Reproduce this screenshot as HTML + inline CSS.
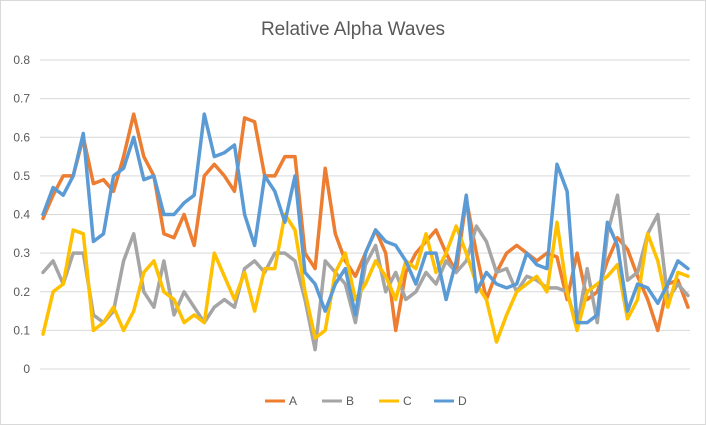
<!DOCTYPE html>
<html><head><meta charset="utf-8"><style>
body{margin:0;background:#fff;}
svg{display:block;font-family:"Liberation Sans",Arial,sans-serif;}
</style></head><body>
<svg id="chart" width="706" height="425">
<rect x="0.5" y="0.5" width="705" height="424" fill="#fff" stroke="#d9d9d9"/>
<text x="353" y="35" text-anchor="middle" font-size="19" fill="#595959">Relative Alpha Waves</text>
<g id="grid"></g><g id="ylabels"></g><g id="series"></g><g id="legend"></g>
</svg>
<script>
const yTicks=[0,0.1,0.2,0.3,0.4,0.5,0.6,0.7,0.8];
const tickLabels=["0","0.1","0.2","0.3","0.4","0.5","0.6","0.7","0.8"];
const seriesNames=["A","B","C","D"];
const valuesA=[0.39,0.45,0.50,0.50,0.60,0.48,0.49,0.46,0.55,0.66,0.55,0.50,0.35,0.34,0.40,0.32,0.50,0.53,0.50,0.46,0.65,0.64,0.50,0.50,0.55,0.55,0.30,0.26,0.52,0.35,0.28,0.24,0.30,0.36,0.30,0.10,0.25,0.30,0.33,0.36,0.30,0.25,0.44,0.30,0.18,0.25,0.30,0.32,0.30,0.28,0.30,0.29,0.18,0.30,0.18,0.20,0.28,0.34,0.31,0.24,0.18,0.10,0.22,0.23,0.16];
const valuesB=[0.25,0.28,0.22,0.30,0.30,0.14,0.12,0.15,0.28,0.35,0.20,0.16,0.28,0.14,0.20,0.16,0.12,0.16,0.18,0.16,0.26,0.28,0.25,0.30,0.30,0.28,0.18,0.05,0.28,0.25,0.22,0.12,0.27,0.32,0.20,0.25,0.18,0.20,0.25,0.22,0.28,0.25,0.28,0.37,0.33,0.25,0.26,0.20,0.24,0.23,0.21,0.21,0.20,0.11,0.26,0.12,0.35,0.45,0.23,0.25,0.35,0.40,0.18,0.22,0.19];
const valuesC=[0.09,0.20,0.22,0.36,0.35,0.10,0.12,0.16,0.10,0.15,0.25,0.28,0.20,0.18,0.12,0.14,0.12,0.30,0.24,0.18,0.25,0.15,0.26,0.26,0.40,0.36,0.20,0.08,0.10,0.25,0.30,0.18,0.22,0.28,0.24,0.18,0.28,0.26,0.35,0.25,0.30,0.37,0.30,0.22,0.18,0.07,0.14,0.20,0.22,0.24,0.20,0.38,0.20,0.10,0.20,0.22,0.24,0.27,0.13,0.18,0.35,0.28,0.16,0.25,0.24];
const valuesD=[0.40,0.47,0.45,0.50,0.61,0.33,0.35,0.50,0.52,0.60,0.49,0.50,0.40,0.40,0.43,0.45,0.66,0.55,0.56,0.58,0.40,0.32,0.50,0.46,0.38,0.50,0.25,0.22,0.15,0.22,0.26,0.14,0.30,0.36,0.33,0.32,0.28,0.22,0.30,0.30,0.18,0.28,0.45,0.20,0.25,0.22,0.21,0.22,0.30,0.27,0.26,0.53,0.46,0.12,0.12,0.14,0.38,0.32,0.15,0.22,0.21,0.17,0.22,0.28,0.26];
const colors=["#ED7D31","#A5A5A5","#FFC000","#5B9BD5"];
const NS="http://www.w3.org/2000/svg";
const X0=43,X1=688,Y0=369,Y1=60;
function yScale(v){return Y0-(v/0.8)*(Y0-Y1);}
function xScale(i,n){return X0+i*(X1-X0)/(n-1);}
const grid=document.getElementById('grid'),yl=document.getElementById('ylabels');
yTicks.forEach((t,k)=>{
  const l=document.createElementNS(NS,'line');
  l.setAttribute('x1',40);l.setAttribute('x2',690);
  l.setAttribute('y1',yScale(t));l.setAttribute('y2',yScale(t));
  l.setAttribute('stroke','#d9d9d9');l.setAttribute('stroke-width','1');
  
  
  grid.appendChild(l);
  const tx=document.createElementNS(NS,'text');
  tx.setAttribute('x',30);tx.setAttribute('y',yScale(t)+4);
  tx.setAttribute('text-anchor','end');tx.setAttribute('font-size','12');tx.setAttribute('fill','#595959');
  tx.textContent=tickLabels[k];
  
  
  yl.appendChild(tx);
});
const all=[valuesA,valuesB,valuesC,valuesD];
const sg=document.getElementById('series');
all.forEach((vals,s)=>{
  const p=document.createElementNS(NS,'polyline');
  p.setAttribute('points',vals.map((v,i)=>xScale(i,vals.length).toFixed(1)+','+yScale(v).toFixed(1)).join(' '));
  p.setAttribute('fill','none');p.setAttribute('stroke',colors[s]);p.setAttribute('stroke-width','3.5');
  p.setAttribute('stroke-linejoin','round');p.setAttribute('stroke-linecap','round');
  
  
  sg.appendChild(p);
});
const lg=document.getElementById('legend');
const lx=[265,322,379,434];
seriesNames.forEach((n,s)=>{
  const g=document.createElementNS(NS,'g');
  
  
  const l=document.createElementNS(NS,'line');
  l.setAttribute('x1',lx[s]);l.setAttribute('x2',lx[s]+20);l.setAttribute('y1',401);l.setAttribute('y2',401);
  l.setAttribute('stroke',colors[s]);l.setAttribute('stroke-width','3');
  g.appendChild(l);
  const t=document.createElementNS(NS,'text');
  t.setAttribute('x',lx[s]+24);t.setAttribute('y',405);t.setAttribute('font-size','12');t.setAttribute('fill','#595959');
  t.textContent=n;g.appendChild(t);
  lg.appendChild(g);
});
</script>
</body></html>
